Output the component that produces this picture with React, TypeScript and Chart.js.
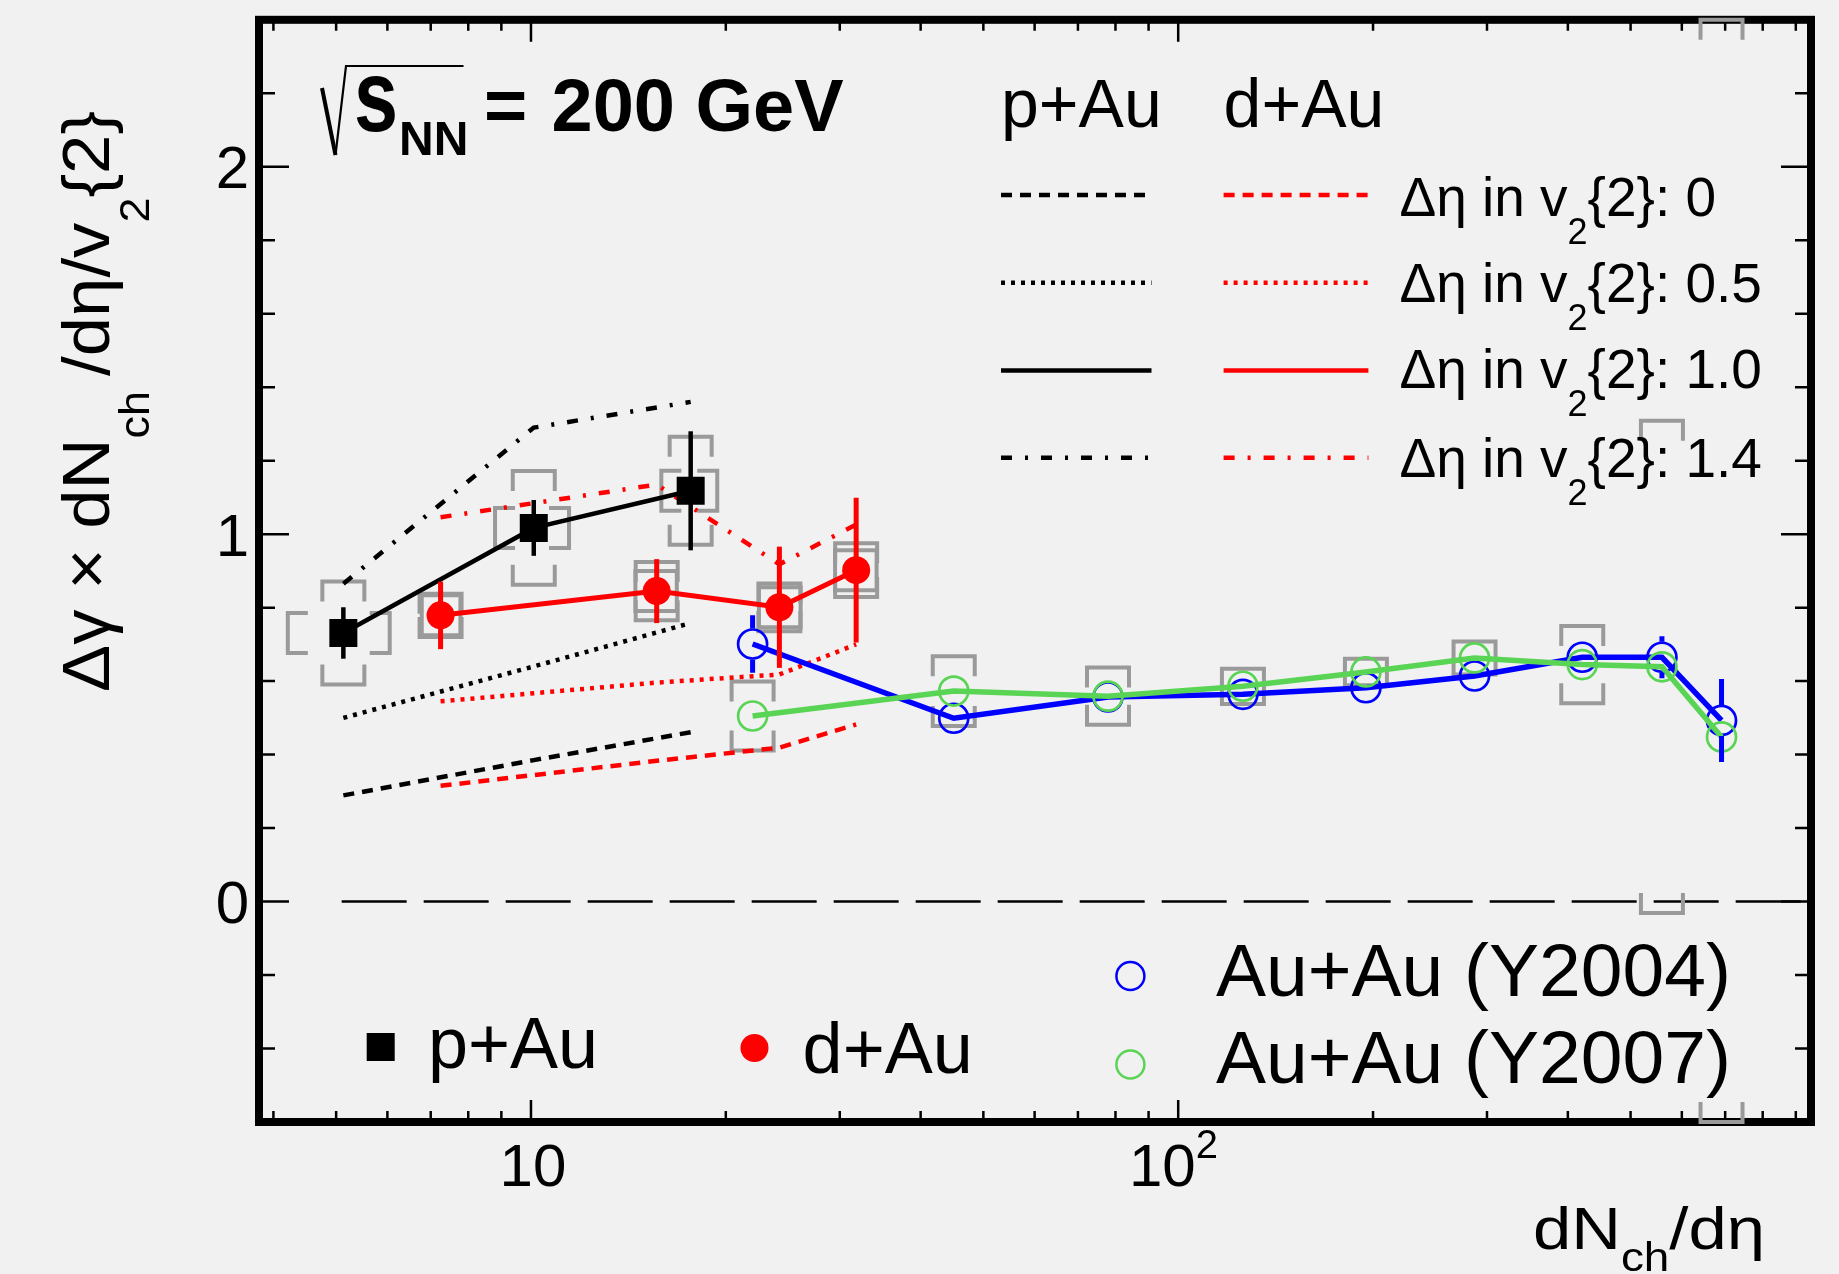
import React, { useEffect, useRef } from "react";
import { Chart, registerables } from "chart.js";

Chart.register(...registerables);

const W = 1839;
const H = 1274;
const FONT = '"Liberation Sans", Arial, Helvetica, sans-serif';
const GREEN = "#59d454";
const BLUE = "#0000ff";
const RED = "#ff0000";
const GRAY = "#9a9a9a";
const BG = "#f1f1f1";

// ---------- data (x = dNch/deta, y = Δγ×dNch/dη/v2{2}) ----------
const pAuX = [5.13, 10.1, 17.65];
const pAuY = [0.731, 1.017, 1.118];
const pAuStat = [0.07, 0.076, 0.162];
const pAuSysY = [0.14, 0.155, 0.147];
const pAuSysXLo = [4.21, 8.8, 15.9];
const pAuSysXHi = [6.05, 11.45, 19.4];

const dAuX = [7.25, 15.64, 24.2, 31.8];
const dAuY = [0.779, 0.845, 0.801, 0.902];
const dAuStat = [0.092, 0.087, 0.165, 0.197];
const dAuSysY = [0.059, 0.079, 0.065, 0.073];
const dAuSysXLo = [6.78, 14.5, 22.5, 29.5];
const dAuSysXHi = [7.78, 16.8, 26.1, 34.2];

const auAuX = [22.0, 45.0, 77.9, 125.9, 195, 287, 421, 559, 691];
const auAu04Y = [0.701, 0.499, 0.557, 0.564, 0.582, 0.614, 0.665, 0.665, 0.493];
const auAu04Stat = [0.078, 0.02, 0.015, 0.015, 0.015, 0.015, 0.02, 0.057, 0.113];
const auAu07Y = [0.505, 0.573, 0.559, 0.586, 0.625, 0.663, 0.645, 0.639, 0.448];
const auAu07SysY = [0.094, 0.095, 0.078, 0.048, 0.036, 0.045, 0.105, 0.67, 2.0];

// model curves (Δη gap in v2{2}: 0, 0.5, 1.4)
const pAuEta0 = [0.289, 0.385, 0.461];
const pAuEta05 = [0.5, 0.64, 0.758];
const pAuEta14 = [0.865, 1.29, 1.36];
const dAuEta0 = [0.315, 0.383, 0.419, 0.482];
const dAuEta05 = [0.545, 0.596, 0.618, 0.7];
const dAuEta14 = [1.046, 1.135, 0.918, 1.026];

// axes
const X_MIN = 3.8;
const X_MAX = 950;
const Y_MIN = -0.6;
const Y_MAX = 2.4;
const yMajorTicks = [0, 1, 2];
const yTickLabels = ["0", "1", "2"];
const yMinorTicks = [-0.4, -0.2, 0.2, 0.4, 0.6, 0.8, 1.2, 1.4, 1.6, 1.8, 2.2];
const xMajorTicks = [10, 100];
const xMinorTicks = [4, 5, 6, 7, 8, 9, 20, 30, 40, 50, 60, 70, 80, 90, 200, 300, 400, 500, 600, 700, 800, 900];
const zeroLineStartX = 4.8;
const etaLabels = ["0", "0.5", "1.0", "1.4"];

const DASHED = [11, 8];
const DOTTED = [4, 6];
const DASHDOT = [11, 13, 3, 13];
const legendDashes = [DASHED, DOTTED, [], DASHDOT];

const pts = (xs: number[], ys: number[]) => xs.map((x, i) => ({ x, y: ys[i] }));

const f = (s: number, b = false) => `${b ? "bold " : ""}${s}px ${FONT}`;
type Run = { t: string; s: number; dy?: number; b?: boolean; gap?: number };
function runsWidth(ctx: CanvasRenderingContext2D, runs: Run[]) {
  let w = 0;
  for (const r of runs) {
    ctx.font = f(r.s, r.b);
    w += ctx.measureText(r.t).width + (r.gap || 0);
  }
  return w;
}
function drawRuns(ctx: CanvasRenderingContext2D, runs: Run[], x: number, y: number) {
  let cx = x;
  for (const r of runs) {
    ctx.font = f(r.s, r.b);
    ctx.fillText(r.t, cx, y + (r.dy || 0));
    cx += ctx.measureText(r.t).width + (r.gap || 0);
  }
  return cx;
}

const ornaments = {
  id: "ornaments",
  beforeDraw(chart: any) {
    const ctx = chart.ctx as CanvasRenderingContext2D;
    ctx.save();
    ctx.fillStyle = BG;
    ctx.fillRect(0, 0, chart.width, chart.height);
    ctx.restore();
  },
  beforeDatasetsDraw(chart: any) {
    const ctx = chart.ctx as CanvasRenderingContext2D;
    const a = chart.chartArea;
    const xs = chart.scales.x;
    const ys = chart.scales.y;
    ctx.save();
    ctx.strokeStyle = "#000";
    // zero line
    const y0 = ys.getPixelForValue(0);
    ctx.lineWidth = 2.4;
    ctx.setLineDash([65, 17]);
    ctx.lineDashOffset = 65;
    ctx.beginPath();
    ctx.moveTo(xs.getPixelForValue(zeroLineStartX), y0);
    ctx.lineTo(a.right, y0);
    ctx.stroke();
    ctx.setLineDash([]);
    ctx.lineDashOffset = 0;
    // ticks (inside frame, all four sides)
    ctx.lineWidth = 2.5;
    const tickY = (v: number, len: number) => {
      const p = ys.getPixelForValue(v);
      ctx.beginPath();
      ctx.moveTo(a.left, p);
      ctx.lineTo(a.left + len, p);
      ctx.moveTo(a.right, p);
      ctx.lineTo(a.right - len, p);
      ctx.stroke();
    };
    const tickX = (v: number, len: number) => {
      const p = xs.getPixelForValue(v);
      ctx.beginPath();
      ctx.moveTo(p, a.bottom);
      ctx.lineTo(p, a.bottom - len);
      ctx.moveTo(p, a.top);
      ctx.lineTo(p, a.top + len);
      ctx.stroke();
    };
    yMajorTicks.forEach((v) => tickY(v, 30));
    yMinorTicks.forEach((v) => tickY(v, 16));
    xMajorTicks.forEach((v) => tickX(v, 22));
    xMinorTicks.forEach((v) => tickX(v, 11));
    // frame
    ctx.lineWidth = 8;
    ctx.strokeRect(a.left, a.top, a.right - a.left, a.bottom - a.top);

    // systematic brackets
    ctx.strokeStyle = GRAY;
    ctx.lineWidth = 4;
    const HW = 21;
    const LEG = 20;
    const yBr = (x: number, y: number, s: number) => {
      const px = xs.getPixelForValue(x);
      const yt = Math.max(ys.getPixelForValue(y + s), a.top);
      const yb = Math.min(ys.getPixelForValue(y - s), a.bottom);
      ctx.beginPath();
      ctx.moveTo(px - HW, yt + LEG);
      ctx.lineTo(px - HW, yt);
      ctx.lineTo(px + HW, yt);
      ctx.lineTo(px + HW, yt + LEG);
      ctx.moveTo(px - HW, yb - LEG);
      ctx.lineTo(px - HW, yb);
      ctx.lineTo(px + HW, yb);
      ctx.lineTo(px + HW, yb - LEG);
      ctx.stroke();
    };
    const xBr = (xl: number, xh: number, y: number) => {
      const pl = xs.getPixelForValue(xl);
      const ph = xs.getPixelForValue(xh);
      const py = ys.getPixelForValue(y);
      ctx.beginPath();
      ctx.moveTo(pl + LEG, py - HW + 1);
      ctx.lineTo(pl, py - HW + 1);
      ctx.lineTo(pl, py + HW - 1);
      ctx.lineTo(pl + LEG, py + HW - 1);
      ctx.moveTo(ph - LEG, py - HW + 1);
      ctx.lineTo(ph, py - HW + 1);
      ctx.lineTo(ph, py + HW - 1);
      ctx.lineTo(ph - LEG, py + HW - 1);
      ctx.stroke();
    };
    auAuX.forEach((x, i) => yBr(x, auAu07Y[i], auAu07SysY[i]));
    pAuX.forEach((x, i) => {
      yBr(x, pAuY[i], pAuSysY[i]);
      xBr(pAuSysXLo[i], pAuSysXHi[i], pAuY[i]);
    });
    dAuX.forEach((x, i) => {
      yBr(x, dAuY[i], dAuSysY[i]);
      xBr(dAuSysXLo[i], dAuSysXHi[i], dAuY[i]);
    });
    ctx.restore();
  },
  afterDatasetsDraw(chart: any) {
    const ctx = chart.ctx as CanvasRenderingContext2D;
    const xs = chart.scales.x;
    const ys = chart.scales.y;
    ctx.save();
    const bars = (xv: number[], yv: number[], ev: number[], color: string, lw: number, hole: number) => {
      ctx.strokeStyle = color;
      ctx.lineWidth = lw;
      xv.forEach((x, i) => {
        const px = xs.getPixelForValue(x);
        const pc = ys.getPixelForValue(yv[i]);
        const pt = ys.getPixelForValue(yv[i] + ev[i]);
        const pb = ys.getPixelForValue(yv[i] - ev[i]);
        ctx.beginPath();
        if (hole > 0) {
          if (pc - hole > pt) {
            ctx.moveTo(px, pt);
            ctx.lineTo(px, pc - hole);
          }
          if (pc + hole < pb) {
            ctx.moveTo(px, pc + hole);
            ctx.lineTo(px, pb);
          }
        } else {
          ctx.moveTo(px, pt);
          ctx.lineTo(px, pb);
        }
        ctx.stroke();
      });
    };
    bars(auAuX, auAu04Y, auAu04Stat, BLUE, 5, 15.5);
    bars(dAuX, dAuY, dAuStat, RED, 5, 0);
    bars(pAuX, pAuY, pAuStat, "#000", 4.5, 0);
    ctx.restore();
  },
  afterDraw(chart: any) {
    const ctx = chart.ctx as CanvasRenderingContext2D;
    const xs = chart.scales.x;
    const ys = chart.scales.y;
    ctx.save();
    ctx.fillStyle = "#000";
    ctx.strokeStyle = "#000";
    ctx.textBaseline = "alphabetic";
    ctx.textAlign = "left";

    // ---- title: sqrt(s_NN) = 200 GeV
    ctx.lineWidth = 4;
    ctx.beginPath();
    ctx.moveTo(322, 88);
    ctx.lineTo(335.5, 155);
    ctx.stroke();
    ctx.lineWidth = 2.2;
    ctx.beginPath();
    ctx.moveTo(335.5, 155);
    ctx.lineTo(346, 66);
    ctx.lineTo(463.5, 66);
    ctx.stroke();
    ctx.save();
    ctx.translate(354, 130.6);
    ctx.scale(1.07, 1.38);
    ctx.font = f(74, true);
    ctx.fillText("s", 0, 0);
    ctx.restore();
    ctx.font = f(48, true);
    ctx.fillText("NN", 399, 155);
    ctx.font = f(74, true);
    ctx.fillText("=", 484, 130.6);
    ctx.fillText("200 GeV", 551.5, 130.6);

    // ---- y tick labels
    ctx.font = f(60);
    ctx.textAlign = "right";
    yMajorTicks.forEach((v, i) => {
      ctx.fillText(yTickLabels[i], 249, ys.getPixelForValue(v) + 0.358 * 60);
    });
    // ---- x tick labels
    ctx.textAlign = "center";
    ctx.fillText("10", xs.getPixelForValue(xMajorTicks[0]) + 2, 1186);
    ctx.textAlign = "left";
    const p100 = xs.getPixelForValue(xMajorTicks[1]);
    const w10 = ctx.measureText("10").width;
    ctx.fillText("10", p100 + 17.5 - w10, 1186);
    ctx.font = f(40);
    ctx.fillText("2", p100 + 17.5, 1157.5);

    // ---- axis titles
    const yRuns: Run[] = [
      { t: "Δγ × dN", s: 66 },
      { t: "ch", s: 42, dy: 40, gap: 14 },
      { t: "/dη/v", s: 66 },
      { t: "2", s: 42, dy: 40 },
      { t: "{2}", s: 66 },
    ];
    ctx.save();
    ctx.translate(108.5, 692);
    ctx.rotate(-Math.PI / 2);
    const wy = runsWidth(ctx, yRuns);
    ctx.scale(581 / wy, 1);
    drawRuns(ctx, yRuns, 0, 0);
    ctx.restore();

    const xRuns: Run[] = [
      { t: "dN", s: 60 },
      { t: "ch", s: 40, dy: 22 },
      { t: "/dη", s: 60 },
    ];
    ctx.save();
    ctx.translate(1533, 1249);
    const wx = runsWidth(ctx, xRuns);
    ctx.scale(232 / wx, 1);
    drawRuns(ctx, xRuns, 0, 0);
    ctx.restore();

    // ---- model legend (top right)
    ctx.font = f(68);
    ctx.fillText("p+Au", 1001, 126.5);
    ctx.fillText("d+Au", 1223.6, 126.5);
    const rowLineY = [195, 282.7, 370.5, 457.8];
    const rowTextY = [216, 302, 387.6, 477];
    for (let i = 0; i < 4; i++) {
      ctx.lineWidth = 4.5;
      ctx.setLineDash(legendDashes[i]);
      ctx.strokeStyle = "#000";
      ctx.beginPath();
      ctx.moveTo(1001, rowLineY[i]);
      ctx.lineTo(1151.5, rowLineY[i]);
      ctx.stroke();
      ctx.strokeStyle = RED;
      ctx.beginPath();
      ctx.moveTo(1223.6, rowLineY[i]);
      ctx.lineTo(1368.4, rowLineY[i]);
      ctx.stroke();
      ctx.setLineDash([]);
      drawRuns(
        ctx,
        [
          { t: "Δη in v", s: 55 },
          { t: "2", s: 36, dy: 28 },
          { t: "{2}: " + etaLabels[i], s: 55 },
        ],
        1399.4,
        rowTextY[i]
      );
    }

    // ---- data legend (bottom)
    ctx.fillStyle = "#000";
    ctx.fillRect(366.7, 1033, 28, 28);
    ctx.font = f(72);
    ctx.fillText("p+Au", 428, 1067.8);
    ctx.fillStyle = RED;
    ctx.beginPath();
    ctx.arc(754.5, 1048, 14, 0, Math.PI * 2);
    ctx.fill();
    ctx.fillStyle = "#000";
    ctx.fillText("d+Au", 802.6, 1073);

    ctx.lineWidth = 2.5;
    ctx.strokeStyle = BLUE;
    ctx.beginPath();
    ctx.arc(1130.4, 976, 14, 0, Math.PI * 2);
    ctx.stroke();
    ctx.strokeStyle = GREEN;
    ctx.beginPath();
    ctx.arc(1130.4, 1064.5, 14, 0, Math.PI * 2);
    ctx.stroke();
    ctx.font = f(75);
    ctx.fillText("Au+Au (Y2004)", 1216, 995.8);
    ctx.fillText("Au+Au (Y2007)", 1216, 1082.7);
    ctx.restore();
  },
};

const modelLine = (xv: number[], yv: number[], color: string, dash: number[], order: number, label: string) => ({
  label,
  data: pts(xv, yv),
  borderColor: color,
  borderWidth: 4.5,
  borderDash: dash,
  pointRadius: 0,
  tension: 0,
  fill: false,
  order,
});

export default function App() {
  const ref = useRef<HTMLCanvasElement>(null);
  useEffect(() => {
    const canvas = ref.current;
    if (!canvas) return;
    const chart = new Chart(canvas, {
      type: "line",
      data: {
        datasets: [
          {
            label: "p+Au",
            data: pts(pAuX, pAuY),
            borderColor: "#000",
            borderWidth: 4.5,
            pointStyle: "rect",
            pointRadius: 19.8,
            pointBackgroundColor: "#000",
            pointBorderColor: "#000",
            pointBorderWidth: 0,
            tension: 0,
            order: 1,
          },
          {
            label: "d+Au",
            data: pts(dAuX, dAuY),
            borderColor: RED,
            borderWidth: 5,
            pointStyle: "circle",
            pointRadius: 14,
            pointBackgroundColor: RED,
            pointBorderColor: RED,
            pointBorderWidth: 0,
            tension: 0,
            order: 2,
          },
          {
            label: "Au+Au (Y2007)",
            data: pts(auAuX, auAu07Y),
            borderColor: GREEN,
            borderWidth: 5.5,
            pointStyle: "circle",
            pointRadius: 14.5,
            pointBackgroundColor: "rgba(0,0,0,0)",
            pointBorderColor: GREEN,
            pointBorderWidth: 2.7,
            tension: 0,
            order: 3,
          },
          {
            label: "Au+Au (Y2004)",
            data: pts(auAuX, auAu04Y),
            borderColor: BLUE,
            borderWidth: 5.5,
            pointStyle: "circle",
            pointRadius: 14.5,
            pointBackgroundColor: "rgba(0,0,0,0)",
            pointBorderColor: BLUE,
            pointBorderWidth: 2.7,
            tension: 0,
            order: 4,
          },
          modelLine(pAuX, pAuEta0, "#000", DASHED, 5, "p+Au Δη 0"),
          modelLine(pAuX, pAuEta05, "#000", DOTTED, 6, "p+Au Δη 0.5"),
          modelLine(pAuX, pAuEta14, "#000", DASHDOT, 7, "p+Au Δη 1.4"),
          modelLine(dAuX, dAuEta0, RED, DASHED, 8, "d+Au Δη 0"),
          modelLine(dAuX, dAuEta05, RED, DOTTED, 9, "d+Au Δη 0.5"),
          modelLine(dAuX, dAuEta14, RED, DASHDOT, 10, "d+Au Δη 1.4"),
        ] as any,
      },
      options: {
        responsive: false,
        maintainAspectRatio: false,
        devicePixelRatio: 1,
        animation: false,
        events: [],
        layout: { padding: { left: 259, right: 28, top: 17, bottom: 152 } },
        plugins: { legend: { display: false }, tooltip: { enabled: false } },
        scales: {
          x: { type: "logarithmic", min: X_MIN, max: X_MAX, display: false },
          y: { type: "linear", min: Y_MIN, max: Y_MAX, display: false },
        },
      },
      plugins: [ornaments],
    } as any);
    return () => chart.destroy();
  }, []);
  return (
    <div style={{ position: "absolute", left: 0, top: 0, width: W, height: H }}>
      <canvas ref={ref} width={W} height={H} style={{ width: W, height: H, display: "block" }} />
    </div>
  );
}
